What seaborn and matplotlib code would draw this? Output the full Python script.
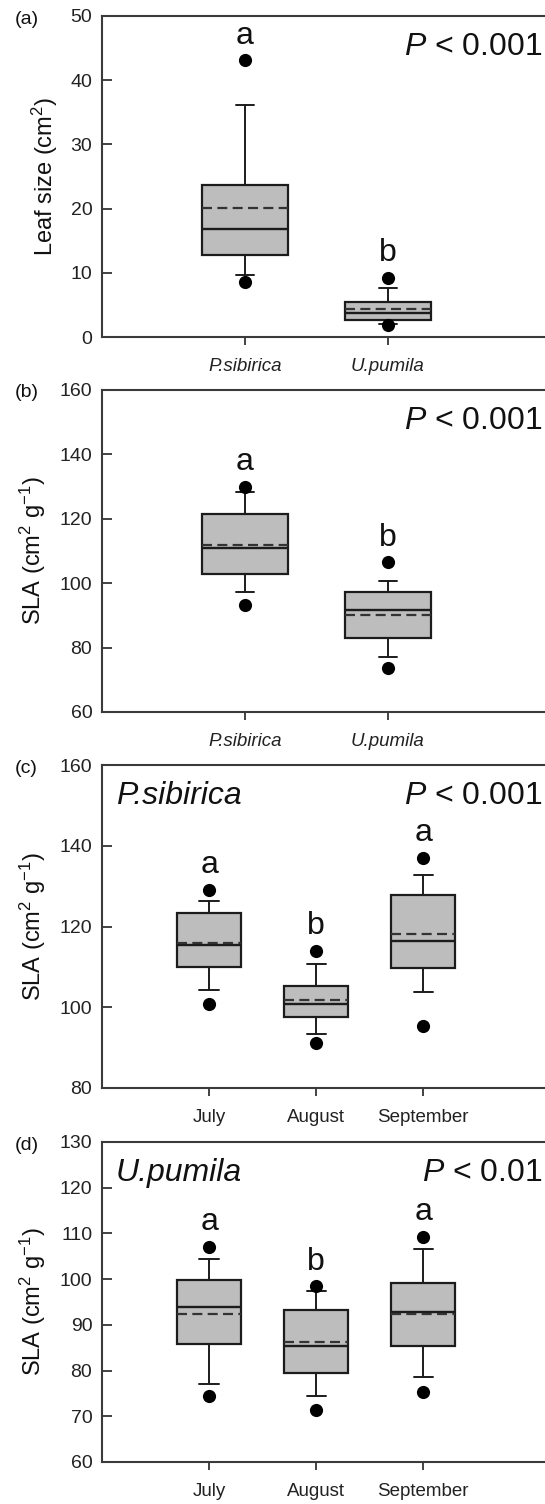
import numpy as np
import pandas as pd
import seaborn as sns
import matplotlib.pyplot as plt

sns.set_style('ticks')
plt.rcParams['font.family'] = ['Liberation Sans', 'DejaVu Sans']
plt.rcParams['mathtext.fontset'] = 'custom'
plt.rcParams['mathtext.rm'] = 'Liberation Sans'
plt.rcParams['mathtext.it'] = 'Liberation Sans:italic'

# categories
species = ['P.sibirica', 'U.pumila']
months = ['July', 'August', 'September']

# (a) leaf size: 5th, 10th, 25th, median, mean, 75th, 90th, 95th
leaf_p5 = [8.6, 1.8]
leaf_p10 = [9.7, 2.1]
leaf_q1 = [12.8, 2.7]
leaf_med = [16.9, 3.8]
leaf_mean = [20.1, 4.4]
leaf_q3 = [23.7, 5.5]
leaf_p90 = [36.2, 7.6]
leaf_p95 = [43.1, 9.2]

# (b) SLA by species
sla_p5 = [93.3, 73.8]
sla_p10 = [97.2, 77.1]
sla_q1 = [102.8, 82.9]
sla_med = [111.0, 91.6]
sla_mean = [111.9, 90.2]
sla_q3 = [121.5, 97.2]
sla_p90 = [128.2, 100.8]
sla_p95 = [130.0, 106.5]

# (c) SLA of P.sibirica by month
ps_p5 = [100.7, 91.2, 95.3]
ps_p10 = [104.2, 93.3, 103.8]
ps_q1 = [110.0, 97.6, 109.6]
ps_med = [115.4, 100.9, 116.4]
ps_mean = [116.0, 101.8, 118.1]
ps_q3 = [123.3, 105.3, 127.9]
ps_p90 = [126.2, 110.6, 132.7]
ps_p95 = [129.0, 114.0, 137.0]

# (d) SLA of U.pumila by month
up_p5 = [74.4, 71.4, 75.4]
up_p10 = [77.0, 74.5, 78.7]
up_q1 = [85.8, 79.5, 85.3]
up_med = [94.0, 85.4, 92.9]
up_mean = [92.3, 86.2, 92.4]
up_q3 = [99.9, 93.2, 99.1]
up_p90 = [104.4, 97.3, 106.7]
up_p95 = [107.1, 98.4, 109.3]

letters_ab = ['a', 'b']
letters_month = ['a', 'b', 'a']

BOX = '#bdbdbd'
LINE = '#1c1c1c'
SPINE = '#3a3a3a'
W, H = 545, 1504


def draw_panel(ax, cats, p5, p10, q1, med, mean, q3, p90, p95, letters,
               ylim, yticks, ylabel, ptext, xmax, capw, tag, lab_x,
               title=None, italic=False):
    stats = []
    for i, c in enumerate(cats):
        stats.append(dict(label=c, whislo=p10[i], q1=q1[i], med=med[i],
                          mean=mean[i], q3=q3[i], whishi=p90[i], fliers=[]))
    pos = np.arange(len(cats))
    ax.bxp(stats, positions=pos, widths=0.6, patch_artist=True,
           showmeans=True, meanline=True, capwidths=capw, manage_ticks=False,
           boxprops=dict(facecolor=BOX, edgecolor=LINE, linewidth=1.6),
           medianprops=dict(color=LINE, linewidth=1.7),
           meanprops=dict(color='#333333', linewidth=1.6,
                          linestyle=(0, (4.5, 2.4))),
           whiskerprops=dict(color=LINE, linewidth=1.4),
           capprops=dict(color=LINE, linewidth=1.4))
    dots = pd.DataFrame({'x': np.concatenate([pos, pos]),
                         'y': list(p5) + list(p95)})
    sns.scatterplot(data=dots, x='x', y='y', color='black', s=90,
                    linewidth=0, ax=ax, zorder=4, legend=False)
    for i, l in enumerate(letters):
        ax.annotate(l, (pos[i], p95[i]), xytext=(0, 7),
                    textcoords='offset points', ha='center', va='bottom',
                    fontsize=23, color='#111111')
    ax.set_xlim(-1.0, xmax)
    ax.set_ylim(*ylim)
    ax.set_yticks(yticks)
    ax.set_xticks(pos)
    ax.set_xticklabels(cats, style='italic' if italic else 'normal')
    ax.set_xlabel('')
    ax.set_ylabel(ylabel, fontsize=17, color='#111111')
    ax.yaxis.set_label_coords(lab_x, 0.5)
    ax.tick_params(axis='y', direction='in', length=7, width=1.2, pad=7,
                   labelsize=14, colors='#222222')
    ax.tick_params(axis='x', direction='out', length=6, width=1.2, pad=9,
                   labelsize=13.5, colors='#222222')
    for s in ax.spines.values():
        s.set_color(SPINE)
        s.set_linewidth(1.5)
    ax.spines['right'].set_visible(False)
    hpx = ax.get_position().height * H
    ax.text((542 - 102) / 453, 1 - 39 / hpx, ptext, transform=ax.transAxes,
            ha='right', va='baseline', fontsize=23, color='#111111')
    if title:
        ax.text(0.03, 1 - 39 / hpx, title, transform=ax.transAxes,
                ha='left', va='baseline', fontsize=23, style='italic',
                color='#111111')
    ax.text((15 - 102) / 453, 1 - 3 / hpx, tag, transform=ax.transAxes,
            ha='left', va='center', fontsize=14, color='#111111')


fig = plt.figure(figsize=(W / 100, H / 100), dpi=100)

# axes boxes in pixels: top, bottom (right runs past the figure edge)
boxes = [(16, 337), (390, 712), (765, 1088), (1142, 1462)]
axs = []
for top, bot in boxes:
    axs.append(fig.add_axes([102 / W, 1 - bot / H, 453 / W, (bot - top) / H]))

draw_panel(axs[0], species, leaf_p5, leaf_p10, leaf_q1, leaf_med, leaf_mean,
           leaf_q3, leaf_p90, leaf_p95, letters_ab, (0, 50),
           [0, 10, 20, 30, 40, 50], 'Leaf size (cm$^{2}$)', '$P$ < 0.001',
           2.17, 0.126, '(a)', -0.093, italic=True)
draw_panel(axs[1], species, sla_p5, sla_p10, sla_q1, sla_med, sla_mean,
           sla_q3, sla_p90, sla_p95, letters_ab, (60, 160),
           [60, 80, 100, 120, 140, 160], 'SLA (cm$^{2}$ g$^{-1}$)',
           '$P$ < 0.001', 2.17, 0.126, '(b)', -0.119, italic=True)
draw_panel(axs[2], months, ps_p5, ps_p10, ps_q1, ps_med, ps_mean, ps_q3,
           ps_p90, ps_p95, letters_month, (80, 160),
           [80, 100, 120, 140, 160], 'SLA (cm$^{2}$ g$^{-1}$)',
           '$P$ < 0.001', 3.23, 0.18, '(c)', -0.119, title='P.sibirica')
draw_panel(axs[3], months, up_p5, up_p10, up_q1, up_med, up_mean, up_q3,
           up_p90, up_p95, letters_month, (60, 130),
           [60, 70, 80, 90, 100, 110, 120, 130], 'SLA (cm$^{2}$ g$^{-1}$)',
           '$P$ < 0.01', 3.23, 0.18, '(d)', -0.119, title='U.pumila')

fig.savefig('out.png', dpi=100)
